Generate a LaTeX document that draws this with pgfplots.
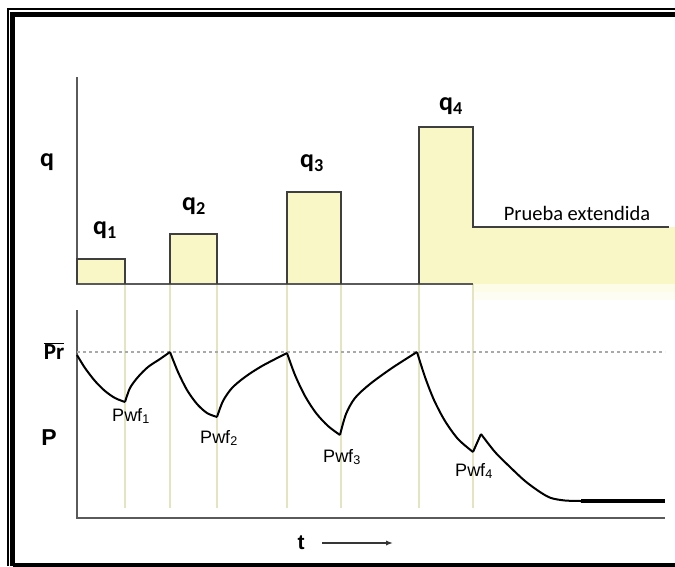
\documentclass[border=0pt]{standalone}
\usepackage{pgfplots}
\pgfplotsset{compat=1.18}
\usepackage{fontspec}
\setmainfont{Liberation Sans}
\newfontfamily\carl{Carlito}
\usetikzlibrary{arrows.meta}

\definecolor{barfill}{RGB}{250,247,198}
\definecolor{guide}{RGB}{228,228,192}
\definecolor{axgray}{RGB}{90,90,90}
\definecolor{prgray}{RGB}{170,170,170}

\newcommand{\fs}[1]{\fontsize{#1}{#1}\selectfont}

\begin{document}
\begin{tikzpicture}
\begin{axis}[
  width=675pt, height=566pt, scale only axis,
  xmin=0, xmax=675, ymin=0, ymax=566, y dir=reverse,
  hide axis, clip=true,
]
% background
\addplot[draw=none, fill=white] coordinates {(0,0) (675,0) (675,566) (0,566)} \closedcycle;

% yellow fills
\addplot[draw=none, fill=barfill] coordinates {(77,284) (77,259) (125,259) (125,284)} -- cycle;
\addplot[draw=none, fill=barfill] coordinates {(170,284) (170,234) (217,234) (217,284)} -- cycle;
\addplot[draw=none, fill=barfill] coordinates {(287,284) (287,192) (341,192) (341,284)} -- cycle;
\addplot[draw=none, fill=barfill] coordinates {(419,284) (419,127) (473,127) (473,284)} -- cycle;
\addplot[draw=none, fill=barfill] coordinates {(473,284) (473,227) (675,227) (675,284)} -- cycle;
\addplot[draw=none, fill=barfill!40] coordinates {(473,292) (473,284) (675,284) (675,292)} -- cycle;
\addplot[draw=none, fill=barfill!20] coordinates {(473,300) (473,292) (675,292) (675,300)} -- cycle;

% guide lines
\addplot[guide, line width=1.2pt] coordinates {(125,284) (125,508)};
\addplot[guide, line width=1.2pt] coordinates {(170,284) (170,508)};
\addplot[guide, line width=1.2pt] coordinates {(217,284) (217,508)};
\addplot[guide, line width=1.2pt] coordinates {(287,284) (287,508)};
\addplot[guide, line width=1.2pt] coordinates {(341,284) (341,508)};
\addplot[guide, line width=1.2pt] coordinates {(419,284) (419,508)};
\addplot[guide, line width=1.2pt] coordinates {(473,284) (473,508)};

% axes
\addplot[axgray, line width=1.5pt] coordinates {(77,77) (77,284) (473,284)};
\addplot[axgray, line width=1.5pt] coordinates {(77,310) (77,518) (665,518)};

% bar outlines
\addplot[axgray!70!black, line width=1.4pt] coordinates {(77,284) (77,259) (125,259) (125,284)};
\addplot[axgray!70!black, line width=1.4pt] coordinates {(170,284) (170,234) (217,234) (217,284)};
\addplot[axgray!70!black, line width=1.4pt] coordinates {(287,284) (287,192) (341,192) (341,284)};
\addplot[axgray!70!black, line width=1.4pt] coordinates {(419,284) (419,127) (473,127) (473,227) (669,227)};

% average reservoir pressure
\addplot[prgray, line width=1.3pt, dash pattern=on 3pt off 3pt] coordinates {(77,352) (665,352)};

% pressure response
\addplot[black, line width=2pt, smooth] coordinates {(77,355) (85,368) (95,381) (105,391) (115,398) (125,402)};
\addplot[black, line width=2pt, smooth] coordinates {(125,402) (130,388) (138,377) (148,367) (160,359) (170,352)};
\addplot[black, line width=2pt, smooth] coordinates {(170,352) (178,372) (187,390) (197,404) (207,413) (217,417)};
\addplot[black, line width=2pt, smooth] coordinates {(217,417) (223,401) (232,388) (245,377) (262,366) (287,353)};
\addplot[black, line width=2pt, smooth] coordinates {(287,353) (295,375) (305,396) (316,413) (328,426) (340,435)};
\addplot[black, line width=2pt, smooth] coordinates {(340,435) (346,414) (355,398) (370,384) (392,368) (417,352)};
\addplot[black, line width=2pt, smooth] coordinates {(417,352) (425,377) (434,400) (445,421) (458,439) (473,452)};
\addplot[black, line width=2pt] coordinates {(473,452) (481,434)};
\addplot[black, line width=2pt, smooth] coordinates {(481,434) (495,452) (510,467) (525,481) (540,492) (551,498) (565,500.5) (581,501)};
\addplot[black, line width=4pt] coordinates {(581,501) (665,501)};

% labels
\node[font=\carl\bfseries\fs{26}] at (axis cs:47,162) {q};
\node[font=\carl\bfseries\fs{26}] at (axis cs:105,230) {q\textsubscript{1}};
\node[font=\carl\bfseries\fs{26}] at (axis cs:194,206) {q\textsubscript{2}};
\node[font=\carl\bfseries\fs{26}] at (axis cs:312,163) {q\textsubscript{3}};
\node[font=\carl\bfseries\fs{26}] at (axis cs:451,106) {q\textsubscript{4}};
\node[font=\carl\fs{20.5}] at (axis cs:577,213) {Prueba extendida};
\node[font=\carl\bfseries\fs{23}] at (axis cs:54,351) {$\overline{\mbox{Pr}}$};
\node[font=\bfseries\fs{23}] at (axis cs:49,438) {P};
\node[font=\fs{18}] at (axis cs:131,416) {Pwf\textsubscript{1}};
\node[font=\fs{18}] at (axis cs:219,438) {Pwf\textsubscript{2}};
\node[font=\fs{18}] at (axis cs:342,457) {Pwf\textsubscript{3}};
\node[font=\fs{18}] at (axis cs:474,471) {Pwf\textsubscript{4}};
\node[font=\bfseries\fs{21}] at (axis cs:301,543) {t};
\draw[axgray!60!black, line width=1.4pt, -{Latex[length=7pt]}] (axis cs:322,543) -- (axis cs:393,543);

% frame
\addplot[black, line width=1.2pt] coordinates {(8,566) (8,9) (675,9)};
\addplot[black, line width=5pt] coordinates {(12.5,566) (12.5,14.5) (675,14.5)};
\addplot[black, line width=4pt] coordinates {(12.5,564.5) (675,564.5)};
\end{axis}
\end{tikzpicture}
\end{document}
